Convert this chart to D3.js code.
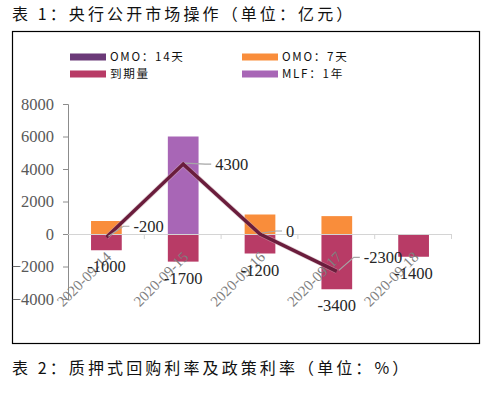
<!DOCTYPE html>
<html>
<head>
<meta charset="utf-8">
<script src="https://cdn.jsdelivr.net/npm/d3@7"></script>
<style>
  html, body { margin: 0; padding: 0; background: #fff; }
  svg { display: block; }
</style>
</head>
<body>
<div id="canvas"></div>
<script>
// values (亿元)
const dates = ["2020-09-14", "2020-09-15", "2020-09-16", "2020-09-17", "2020-09-18"];
const omo7 = [800, 0, 1200, 1100, 0];
const mlf1y = [0, 6000, 0, 0, 0];
const maturity = [-1000, -1700, -1200, -3400, -1400];
const netLine = [-200, 4300, 0, -2300];
const yTicks = [-4000, -2000, 0, 2000, 4000, 6000, 8000];
const legendNames = ["OMO：14天", "OMO：7天", "到期量", "MLF：1年"];

const colors = { omo14: "#6B3A78", omo7: "#F98D3B", maturity: "#B83B66", mlf: "#A866B6", line: "#6A1D3C" };

let W = 496, H = 398
  , plot = { left: 68, right: 452, top: 104, bottom: 299 }
  ;

let svg = d3.select("#canvas").append("svg")
  .attr("width", W)
  .attr("height", H);

const cjk = "'Noto Sans CJK SC', 'Noto Sans', sans-serif";
const num = "'Liberation Serif', 'DejaVu Serif', serif";

// headings
svg.append("text")
  .attr("x", 12).attr("y", 20)
  .attr("font-family", cjk).attr("font-size", 16)
  .attr("letter-spacing", 3.1)
  .attr("fill", "#111")
  .text("表 1：央行公开市场操作（单位：亿元）");

svg.append("text")
  .attr("x", 12).attr("y", 374)
  .attr("font-family", cjk).attr("font-size", 16)
  .attr("letter-spacing", 3.1)
  .attr("fill", "#111")
  .text("表 2：质押式回购利率及政策利率（单位：%）");

// frame
svg.append("rect")
  .attr("x", 12.5).attr("y", 31.5)
  .attr("width", 467).attr("height", 312)
  .attr("fill", "none").attr("stroke", "#000").attr("stroke-width", 1.2);

// legend
let legendColors = [colors.omo14, colors.omo7, colors.maturity, colors.mlf];
let lg = svg.append("g").selectAll("g")
  .data(legendNames)
  .join("g")
  .attr("transform", (d, i) => "translate(" + (i % 2 ? 242 : 70) + "," + (i < 2 ? 57 : 74) + ")");
lg.append("rect")
  .attr("x", 0).attr("y", -3.5).attr("width", 36).attr("height", 7)
  .attr("fill", (d, i) => legendColors[i]);
lg.append("text")
  .attr("x", 40).attr("y", 4.3)
  .attr("font-family", cjk).attr("font-size", 11.6)
  .attr("letter-spacing", 1.7)
  .attr("fill", "#111")
  .text(d => d);

// scales
let x = d3.scaleBand().domain(dates).range([plot.left, plot.right]).paddingInner(0).paddingOuter(0);
let y = d3.scaleLinear().domain([-4000, 8000]).range([plot.bottom, plot.top]);
let barW = x.bandwidth() * 0.4;
let cx = d => x(d) + x.bandwidth() / 2;

// bars (stacked, diverging)
let rows = dates.map((d, i) => ({ date: d, omo7: omo7[i], mlf: mlf1y[i], maturity: maturity[i] }));
let series = d3.stack()
  .keys(["omo7", "mlf", "maturity"])
  .offset(d3.stackOffsetDiverging)(rows);
let barColor = { omo7: colors.omo7, mlf: colors.mlf, maturity: colors.maturity };

svg.append("g").selectAll("g")
  .data(series)
  .join("g")
  .attr("fill", s => barColor[s.key])
  .selectAll("rect")
  .data(s => s)
  .join("rect")
  .attr("x", d => cx(d.data.date) - barW / 2)
  .attr("width", barW)
  .attr("y", d => y(d[1]))
  .attr("height", d => Math.abs(y(d[0]) - y(d[1])));

// y axis
let yAxis = d3.axisLeft(y).tickValues(yTicks).tickSize(5).tickPadding(9).tickFormat(d3.format("d"));
let ya = svg.append("g")
  .attr("transform", "translate(" + plot.left + ",0)")
  .call(yAxis);
ya.attr("font-family", null).attr("font-size", null);
ya.select(".domain").attr("stroke", "#8c8c8c");
ya.selectAll(".tick line").attr("stroke", "#8c8c8c");
ya.selectAll(".tick text")
  .style("font-family", num).style("font-size", "16.5px")
  .attr("fill", "#595959");

// zero line with category ticks
let xa = svg.append("g")
  .attr("transform", "translate(0," + y(0) + ")");
xa.append("path")
  .attr("d", "M" + plot.left + ",0.5H" + plot.right)
  .attr("stroke", "#d4d4d4").attr("fill", "none");
xa.selectAll(".cat-tick")
  .data(dates)
  .join("line")
  .attr("class", "cat-tick")
  .attr("x1", d => x(d) + x.bandwidth() - 0.5).attr("x2", d => x(d) + x.bandwidth() - 0.5)
  .attr("y1", 0).attr("y2", 5)
  .attr("stroke", "#d4d4d4");

// category labels, rotated
svg.append("g").selectAll("text")
  .data(dates)
  .join("text")
  .attr("transform", d => "translate(" + (cx(d) + 6) + "," + (y(0) + 24) + ") rotate(-45)")
  .attr("text-anchor", "end")
  .style("font-family", num).style("font-size", "15px")
  .attr("fill", "#7f7f7f")
  .text(d => d);

// maturity labels under bars
svg.append("g").selectAll("text")
  .data(rows)
  .join("text")
  .attr("x", d => cx(d.date))
  .attr("y", d => y(d.maturity) + 22)
  .attr("text-anchor", "middle")
  .style("font-family", num).style("font-size", "16.5px")
  .attr("fill", "#262626")
  .text(d => d.maturity);

// net line
let linePts = netLine.map((v, i) => ({ date: dates[i], v: v }));
let line = d3.line().x(d => cx(d.date)).y(d => y(d.v));
svg.append("path")
  .datum(linePts)
  .attr("d", line)
  .attr("fill", "none")
  .attr("stroke", "#c9a9b4")
  .attr("stroke-width", 5)
  .attr("stroke-linejoin", "round")
  .attr("opacity", 0.5);
svg.append("path")
  .datum(linePts)
  .attr("d", line)
  .attr("fill", "none")
  .attr("stroke", colors.line)
  .attr("stroke-width", 3.4)
  .attr("stroke-linejoin", "miter");

// line labels with leader lines
const nudge = [[17, -11], [22, 0], [16, -3], [17, -14]];
let ll = svg.append("g").selectAll("g")
  .data(linePts)
  .join("g")
  .attr("transform", d => "translate(" + cx(d.date) + "," + y(d.v) + ")");
ll.append("path")
  .attr("d", (d, i) => {
    let [dx, dy] = nudge[i];
    return "M2,-1L" + dx + "," + dy + "H" + (dx + 6);
  })
  .attr("fill", "none").attr("stroke", "#a6a6a6").attr("stroke-width", 1.2);
ll.append("text")
  .attr("x", (d, i) => nudge[i][0] + 10)
  .attr("y", (d, i) => nudge[i][1] + 5.5)
  .style("font-family", num).style("font-size", "16.5px")
  .attr("fill", "#262626")
  .text(d => d.v);
</script>
</body>
</html>
